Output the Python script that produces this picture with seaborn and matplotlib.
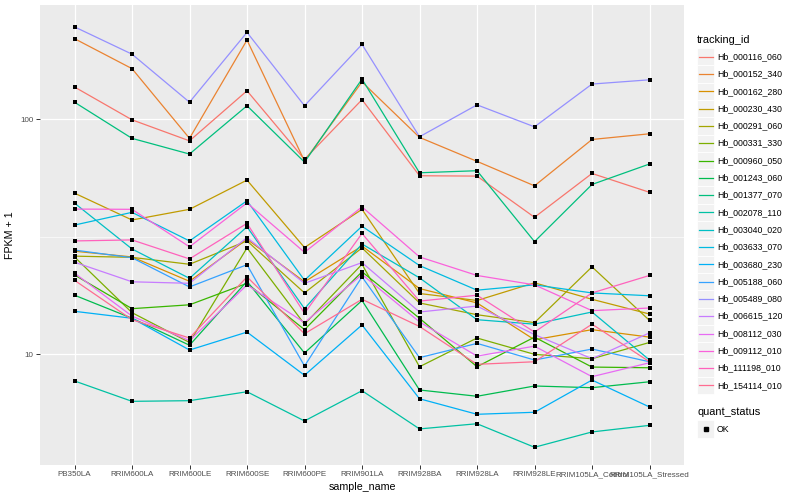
import numpy as np
import pandas as pd
import seaborn as sns
import matplotlib.pyplot as plt
from matplotlib.patches import Rectangle
from matplotlib.lines import Line2D
from matplotlib.ticker import FixedLocator, NullFormatter

plt.rcParams['font.family'] = ['Liberation Sans', 'DejaVu Sans']

# Samples on the x axis
samples = ["PB350LA", "RRIM600LA", "RRIM600LE", "RRIM600SE", "RRIM600PE", "RRIM901LA",
           "RRIM928BA", "RRIM928LA", "RRIM928LE", "RRIM105LA_Control", "RRIM105LA_Stressed"]

tracking_ids = ["Hb_000116_060", "Hb_000152_340", "Hb_000162_280", "Hb_000230_430",
                "Hb_000291_060", "Hb_000331_330", "Hb_000960_050", "Hb_001243_060",
                "Hb_001377_070", "Hb_002078_110", "Hb_003040_020", "Hb_003633_070",
                "Hb_003680_230", "Hb_005188_060", "Hb_005489_080", "Hb_006615_120",
                "Hb_008112_030", "Hb_009112_010", "Hb_111198_010", "Hb_154114_010"]

# ggplot default hue palette for 20 levels
colors = ["#F8766D", "#EA8331", "#D89000", "#C09B00", "#A3A500", "#7CAE00", "#39B600",
          "#00BB4E", "#00BF7D", "#00C1A3", "#00BFC4", "#00BAE0", "#00B0F6", "#35A2FF",
          "#9590FF", "#C77CFF", "#E76BF3", "#FA62DB", "#FF62BC", "#FF6C91"]

# FPKM + 1 per sample
hb_000116_060 = [137, 99.3, 80.8, 132, 67.4, 121, 57.4, 57.2, 38.2, 58.7, 48.8]
hb_000152_340 = [220, 164, 82.8, 217, 66.3, 144, 83.6, 66.1, 52.0, 81.9, 86.6]
hb_000162_280 = [27.4, 25.9, 20.4, 30.8, 20.3, 28.8, 19.0, 16.5, 11.5, 12.7, 11.8]
hb_000230_430 = [48.4, 37.2, 41.3, 55.0, 28.4, 41.3, 18.1, 16.9, 20.1, 17.1, 14.8]
hb_000291_060 = [26.1, 25.8, 24.1, 30.3, 18.2, 28.3, 16.5, 14.7, 13.6, 23.5, 13.9]
hb_000331_330 = [25.9, 15.0, 11.2, 28.3, 13.4, 24.1, 8.83, 11.7, 9.97, 9.55, 11.2]
hb_000960_050 = [21.7, 15.6, 16.2, 20.0, 12.7, 22.4, 14.2, 8.83, 11.8, 8.80, 8.74]
hb_001243_060 = [17.8, 14.2, 10.9, 20.4, 10.1, 16.9, 7.03, 6.61, 7.31, 7.19, 7.62]
hb_001377_070 = [118, 82.8, 71.0, 114, 65.6, 148, 59.1, 60.3, 30.1, 52.7, 64.4]
hb_002078_110 = [7.68, 6.29, 6.33, 6.91, 5.19, 6.98, 4.80, 5.05, 4.01, 4.66, 4.97]
hb_003040_020 = [43.9, 28.0, 21.0, 34.8, 15.6, 29.4, 21.1, 14.0, 13.4, 15.1, 9.43]
hb_003633_070 = [35.4, 40.1, 30.3, 44.9, 20.6, 35.0, 23.8, 18.7, 19.7, 18.2, 17.7]
hb_003680_230 = [15.2, 14.2, 10.4, 12.4, 8.12, 13.3, 6.45, 5.54, 5.65, 7.75, 5.95]
hb_005188_060 = [27.7, 25.7, 19.3, 24.0, 8.89, 21.3, 9.65, 11.1, 9.43, 10.5, 9.27]
hb_005489_080 = [247, 189, 118, 234, 114, 208, 84.1, 115, 92.7, 141, 147]
hb_006615_120 = [24.6, 20.3, 20.0, 31.3, 20.0, 24.5, 15.1, 16.0, 12.1, 9.55, 12.3]
hb_008112_030 = [22.1, 14.5, 11.4, 19.7, 13.6, 21.8, 13.7, 9.8, 10.8, 8.01, 9.18]
hb_009112_010 = [41.4, 41.3, 28.6, 44.0, 27.1, 42.3, 25.9, 21.6, 19.7, 15.3, 15.7]
hb_111198_010 = [30.3, 30.6, 25.4, 36.0, 14.9, 32.6, 16.8, 17.8, 12.4, 18.2, 21.6]
hb_154114_010 = [20.6, 14.0, 11.7, 21.3, 12.2, 17.1, 13.1, 9.04, 9.27, 13.4, 9.27]

series = [hb_000116_060, hb_000152_340, hb_000162_280, hb_000230_430, hb_000291_060,
          hb_000331_330, hb_000960_050, hb_001243_060, hb_001377_070, hb_002078_110,
          hb_003040_020, hb_003633_070, hb_003680_230, hb_005188_060, hb_005489_080,
          hb_006615_120, hb_008112_030, hb_009112_010, hb_111198_010, hb_154114_010]

rows = []
for tid, vals in zip(tracking_ids, series):
    for i, v in enumerate(vals):
        rows.append({"tracking_id": tid, "sample_name": samples[i], "pos": i,
                     "fpkm": v, "quant_status": "OK"})
df = pd.DataFrame(rows)

W, H = 800, 500
fig = plt.figure(figsize=(8, 5), dpi=100)
ax = fig.add_axes([40 / W, 35 / H, 644 / W, 460 / H])
ax.set_facecolor("#EBEBEB")

sns.lineplot(data=df, x="pos", y="fpkm", hue="tracking_id", hue_order=tracking_ids,
             palette=colors, lw=0.9, legend=False, estimator=None, sort=False, ax=ax)
sns.scatterplot(data=df, x="pos", y="fpkm", color="black", marker="s", s=11,
                linewidth=0, legend=False, zorder=3, ax=ax)

ax.set_yscale("log")
ax.set_ylim(3.37, 306)
ax.set_xlim(-0.6, len(samples) - 0.4)
ax.yaxis.set_major_locator(FixedLocator([10, 100]))
ax.set_yticklabels(["10", "100"])
ax.yaxis.set_minor_locator(FixedLocator([10 ** 0.5, 10 ** 1.5, 10 ** 2.5]))
ax.yaxis.set_minor_formatter(NullFormatter())
ax.set_xticks(range(len(samples)))
ax.set_xticklabels(samples)

ax.grid(which="major", color="white", lw=0.9)
ax.grid(which="minor", axis="y", color="white", lw=0.45)
ax.set_axisbelow(True)
for s in ax.spines.values():
    s.set_visible(False)
ax.tick_params(which="major", length=3, width=0.7, color="#333333",
               labelsize=5.8, labelcolor="#4D4D4D", pad=1.5)
ax.tick_params(which="minor", length=0)

ax.set_xlabel("sample_name", fontsize=7.7, labelpad=2.5)
ax.set_ylabel("FPKM + 1", fontsize=7.7, labelpad=4)

# legend drawn in ggplot style
def fy(y):
    return 1 - y / H

fig.text(697 / W, fy(40), "tracking_id", fontsize=7.9, va="center", ha="left")
for i, (tid, col) in enumerate(zip(tracking_ids, colors)):
    yc = 56.7 + 17.3 * i
    fig.add_artist(Rectangle((697 / W, fy(yc + 8.65)), 17.3 / W, 17.3 / H,
                             facecolor="#F2F2F2", edgecolor="white", lw=0.6,
                             transform=fig.transFigure))
    fig.add_artist(Line2D([699 / W, 712.5 / W], [fy(yc), fy(yc)], color=col, lw=0.9,
                          transform=fig.transFigure))
    fig.text(717 / W, fy(yc), tid, fontsize=6.3, va="center", ha="left")

fig.text(697 / W, fy(412), "quant_status", fontsize=7.9, va="center", ha="left")
fig.add_artist(Rectangle((697 / W, fy(429 + 8.65)), 17.3 / W, 17.3 / H,
                         facecolor="#F2F2F2", edgecolor="white", lw=0.6,
                         transform=fig.transFigure))
fig.add_artist(Line2D([705.6 / W], [fy(429)], marker="s", markersize=3, color="black",
                      lw=0, transform=fig.transFigure))
fig.text(717 / W, fy(429), "OK", fontsize=6.3, va="center", ha="left")

fig.savefig("out.png", dpi=100)
